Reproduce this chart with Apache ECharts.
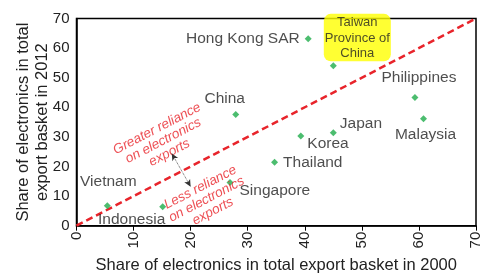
<!DOCTYPE html>
<html>
<head>
<meta charset="utf-8">
<script src="https://cdn.jsdelivr.net/npm/echarts@6/dist/echarts.min.js"></script>
<style>
  html, body { margin: 0; padding: 0; background: #fff; }
  #main { width: 480px; height: 273px; }
</style>
</head>
<body>
<div id="main"></div>
<script>
// economies and their electronics share (%) in 2000 and 2012
var economies = ["Hong Kong SAR", "Taiwan\nProvince of\nChina", "Philippines", "Malaysia", "Japan", "Korea",
  "Thailand", "Singapore", "China", "Vietnam", "Indonesia"];
var share2000 = [40.6, 45.0, 59.3, 60.8, 45.0, 39.3, 34.7, 26.9, 27.9, 5.4, 15.1];
var share2012 = [63.2, 54.0, 43.3, 36.1, 31.4, 30.3, 21.4, 14.6, 37.6, 6.7, 6.4];
var axisTicks = [0, 10, 20, 30, 40, 50, 60, 70];

// where each label sits relative to its point
var labelPlace = {
  "Hong Kong SAR": { position: "left", offset: [0, 0] },
  "Philippines": { position: "top", offset: [4, -3] },
  "Malaysia": { position: "bottom", offset: [2, -1] },
  "Japan": { position: "right", offset: [-2, -9] },
  "Korea": { position: "right", offset: [-2, 8] },
  "Thailand": { position: "right", offset: [0, 0] },
  "Singapore": { position: "right", offset: [1, 8] },
  "China": { position: "top", offset: [-11, 1] },
  "Vietnam": { position: "top", offset: [1, -8] },
  "Indonesia": { position: "bottom", offset: [-31, -4] }
};

var pts = economies.map(function (n, i) {
  var item = { name: n, value: [share2000[i], share2012[i]] };
  if (labelPlace[n]) {
    item.label = labelPlace[n];
  } else {
    item.label = {
      position: "top", offset: [24, 4], fontSize: 13, lineHeight: 15.5,
      backgroundColor: "#ffff00", borderRadius: 7, padding: [1, 1, 0, 1], color: "#222"
    };
  }
  return item;
});

var chart = echarts.init(document.getElementById("main"));
var option = {
  animation: false,
  grid: {
    left: 76.5, right: 4, top: 18.5, bottom: 47.3, containLabel: false, outerBoundsMode: "none",
    show: true, borderColor: "#000", borderWidth: 1.5
  },
  xAxis: {
    type: "value", min: 0, max: 70, interval: 10,
    name: "Share of electronics in total export basket in 2000",
    nameLocation: "middle", nameGap: 31,
    nameTextStyle: { fontFamily: "Liberation Sans", fontSize: 16.5, color: "#222" },
    axisLine: { show: true, lineStyle: { color: "#000", width: 1.5 } },
    axisTick: { show: true, length: 5, lineStyle: { color: "#000" } },
    splitLine: { show: false },
    axisLabel: {
      rotate: 90, fontFamily: "Liberation Sans", fontSize: 15, color: "#222", margin: 6,
      formatter: function (v) { return axisTicks.indexOf(v) >= 0 ? String(v) : ""; }
    }
  },
  yAxis: {
    type: "value", min: 0, max: 70, interval: 10,
    name: "Share of electronics in total\nexport basket in 2012",
    nameLocation: "middle", nameGap: 25, nameMoveOverlap: false,
    nameTextStyle: { fontFamily: "Liberation Sans", fontSize: 16.5, color: "#222", lineHeight: 19 },
    axisLine: { show: true, lineStyle: { color: "#000", width: 1.5 } },
    axisTick: { show: false },
    splitLine: { show: false },
    axisLabel: {
      fontFamily: "Liberation Sans", fontSize: 15, color: "#222", margin: 7,
      formatter: function (v) { return axisTicks.indexOf(v) >= 0 ? String(v) : ""; }
    }
  },
  series: [
    {
      type: "line",
      data: [[0, 0], [70, 70]],
      symbol: "none",
      silent: true,
      lineStyle: { color: "#e8242b", width: 2.5, type: [7, 4] },
      z: 1
    },
    {
      type: "scatter",
      data: pts,
      symbol: "diamond",
      symbolSize: 7,
      itemStyle: { color: "#1fad4b" },
      label: {
        show: true,
        formatter: "{b}",
        fontFamily: "Liberation Sans",
        fontSize: 15.5,
        color: "#222",
        distance: 5
      },
      z: 3
    },
    {
      type: "scatter",
      symbolSize: 0,
      silent: true,
      data: [
        { name: "Greater reliance\non electronics\nexports", value: [15.2, 28.7] },
        { name: "Less reliance\non electronics\nexports", value: [22.8, 8.9] }
      ],
      label: {
        show: true, position: "inside", formatter: "{b}", rotate: 27.5,
        fontFamily: "Liberation Sans", fontStyle: "italic", fontSize: 13.5, lineHeight: 13.5,
        color: "#e8242b", align: "center", verticalAlign: "middle"
      },
      markLine: {
        silent: true,
        symbol: ["arrow", "arrow"],
        symbolSize: [5, 7],
        label: { show: false },
        lineStyle: { color: "#333", width: 0.8, type: "dotted" },
        data: [[{ coord: [16.7, 24.4] }, { coord: [20.0, 13.2] }]]
      },
      z: 4
    }
  ]
};
chart.setOption(option);
</script>
</body>
</html>
